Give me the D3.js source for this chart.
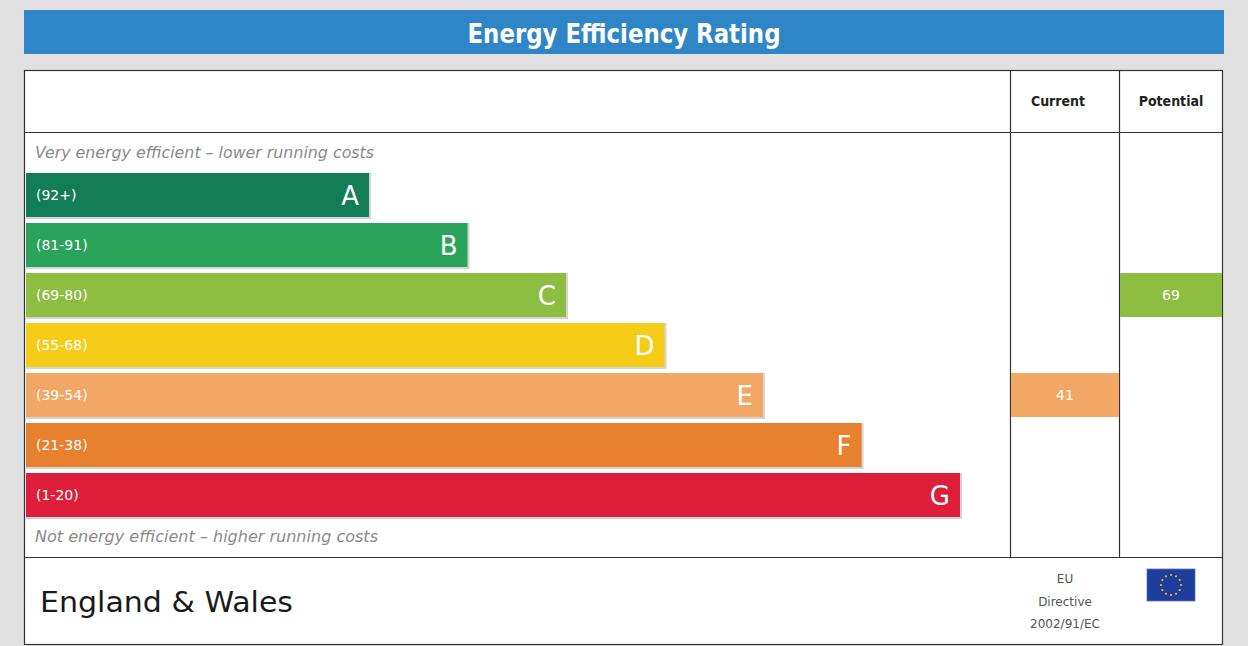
<!DOCTYPE html>
<html>
<head>
<meta charset="utf-8">
<script src="https://cdn.jsdelivr.net/npm/d3@7"></script>
<style>
  html, body { margin: 0; padding: 0; background: #e1e1e1; }
  svg { display: block; }
</style>
</head>
<body>
<div id="chart"></div>
<script>
// Rating bands, best to worst
const bandLetters = ["A", "B", "C", "D", "E", "F", "G"];
const bandRanges = ["(92+)", "(81-91)", "(69-80)", "(55-68)", "(39-54)", "(21-38)", "(1-20)"];
const bandMins = [92, 81, 69, 55, 39, 21, 1];
const bandColours = ["#127d56", "#2aa45b", "#8dbd41", "#f5cc18", "#f2a765", "#e8812f", "#de1f3b"];

// Ratings shown in the right-hand columns
const columnNames = ["Current", "Potential"];
const ratingValues = [41, 69];

const width = 1248;
const height = 646;

const svg = d3.select("#chart").append("svg")
  .attr("width", width)
  .attr("height", height);

// Title banner
svg.append("rect")
  .attr("x", 24).attr("y", 10)
  .attr("width", 1200).attr("height", 44)
  .attr("fill", "#2e86c7");
svg.append("text")
  .attr("x", 624).attr("y", 43)
  .attr("text-anchor", "middle")
  .attr("fill", "white")
  .style("font-family", "'DejaVu Sans Condensed', 'DejaVu Sans', sans-serif")
  .style("font-weight", "bold")
  .style("font-size", "27px")
  .attr("textLength", 313)
  .attr("lengthAdjust", "spacingAndGlyphs")
  .text("Energy Efficiency Rating");

// Main frame
const box = { left: 24.5, right: 1222.5, top: 70.5, bottom: 644.5, header: 132.5, footer: 557.5 };
const colX = [1010.5, 1119.5, box.right];

svg.append("rect")
  .attr("x", box.left).attr("y", box.top)
  .attr("width", box.right - box.left).attr("height", box.bottom - box.top)
  .attr("fill", "white")
  .attr("stroke", "#333")
  .attr("stroke-width", 1.2);

const gridLines = [
  [box.left, box.header, colX[0], box.header],
  [colX[0], box.header, box.right, box.header],
  [box.left, box.footer, box.right, box.footer],
  [colX[0], box.top, colX[0], box.footer],
  [colX[1], box.top, colX[1], box.footer]
];
svg.selectAll("line.grid")
  .data(gridLines)
  .enter().append("line")
  .attr("class", "grid")
  .attr("x1", (d) => d[0]).attr("y1", (d) => d[1])
  .attr("x2", (d) => d[2]).attr("y2", (d) => d[3])
  .attr("stroke", "#333")
  .attr("stroke-width", 1.2);

// Column headers
svg.selectAll("text.colhead")
  .data(columnNames)
  .enter().append("text")
  .attr("class", "colhead")
  .attr("x", (d, i) => (colX[i] + colX[i + 1]) / 2 - (i === 0 ? 7 : 0))
  .attr("y", 106)
  .attr("text-anchor", "middle")
  .attr("fill", "#222")
  .style("font-family", "'DejaVu Sans Condensed', 'DejaVu Sans', sans-serif")
  .style("font-weight", "bold")
  .style("font-size", "14px")
  .text((d) => d);

// Scales
const y = d3.scaleBand()
  .domain(bandLetters)
  .range([170, 520])
  .paddingInner(0.12)
  .paddingOuter(0.06);

const barEnd = d3.scaleLinear()
  .domain([0, bandLetters.length - 1])
  .range([369, 960]);

const barStart = 26;
const bodyFont = "'DejaVu Sans', sans-serif";

// Top / bottom captions
const captions = [
  { text: "Very energy efficient \u2013 lower running costs", y: 158, len: 339 },
  { text: "Not energy efficient \u2013 higher running costs", y: 542, len: 343 }
];
svg.selectAll("text.caption")
  .data(captions)
  .enter().append("text")
  .attr("class", "caption")
  .attr("x", 35)
  .attr("y", (d) => d.y)
  .attr("fill", "#8a8a8a")
  .attr("textLength", (d) => d.len)
  .attr("lengthAdjust", "spacingAndGlyphs")
  .style("font-family", bodyFont)
  .style("font-style", "italic")
  .style("font-size", "15px")
  .text((d) => d.text);

// Bands
const bands = svg.selectAll("g.band")
  .data(bandLetters)
  .enter().append("g")
  .attr("class", "band");

// soft grey edge under and right of each bar
bands.append("rect")
  .attr("x", barStart)
  .attr("y", (d) => y(d))
  .attr("width", (d, i) => barEnd(i) - barStart + 2)
  .attr("height", y.bandwidth() + 2)
  .attr("fill", "#d4d4d4");

bands.append("rect")
  .attr("x", barStart)
  .attr("y", (d) => y(d))
  .attr("width", (d, i) => barEnd(i) - barStart)
  .attr("height", y.bandwidth())
  .attr("fill", (d, i) => bandColours[i]);

bands.append("text")
  .attr("x", 36)
  .attr("y", (d) => y(d) + y.bandwidth() / 2 + 5)
  .attr("fill", "white")
  .style("font-family", bodyFont)
  .style("font-size", "14px")
  .text((d, i) => bandRanges[i]);

bands.append("text")
  .attr("x", (d, i) => barEnd(i) - 10)
  .attr("y", (d) => y(d) + y.bandwidth() / 2 + 10)
  .attr("text-anchor", "end")
  .attr("fill", "white")
  .style("font-family", bodyFont)
  .style("font-size", "26px")
  .text((d) => d);

// Ratings in the Current / Potential columns
const bandIndexFor = (v) => bandMins.findIndex((m) => v >= m);

const ratings = svg.selectAll("g.rating")
  .data(ratingValues)
  .enter().append("g")
  .attr("class", "rating");

ratings.append("rect")
  .attr("x", (d, i) => colX[i] + 0.5)
  .attr("y", (d) => y(bandLetters[bandIndexFor(d)]))
  .attr("width", (d, i) => colX[i + 1] - colX[i] - 1)
  .attr("height", y.bandwidth())
  .attr("fill", (d) => bandColours[bandIndexFor(d)]);

ratings.append("text")
  .attr("x", (d, i) => (colX[i] + colX[i + 1]) / 2)
  .attr("y", (d) => y(bandLetters[bandIndexFor(d)]) + y.bandwidth() / 2 + 5)
  .attr("text-anchor", "middle")
  .attr("fill", "white")
  .style("font-family", bodyFont)
  .style("font-size", "14px")
  .text((d) => d);

// Footer
svg.append("text")
  .attr("x", 40)
  .attr("y", 612)
  .attr("fill", "#1a1a1a")
  .attr("textLength", 253)
  .attr("lengthAdjust", "spacingAndGlyphs")
  .style("font-family", bodyFont)
  .style("font-size", "28px")
  .text("England & Wales");

const directiveLines = ["EU", "Directive", "2002/91/EC"];
svg.selectAll("text.directive")
  .data(directiveLines)
  .enter().append("text")
  .attr("class", "directive")
  .attr("x", 1065)
  .attr("y", (d, i) => 583 + i * 22.5)
  .attr("text-anchor", "middle")
  .attr("fill", "#555")
  .style("font-family", bodyFont)
  .style("font-size", "12px")
  .text((d) => d);

// EU flag
const flag = { x: 1147, y: 569, w: 48, h: 32 };
svg.append("rect")
  .attr("x", flag.x).attr("y", flag.y)
  .attr("width", flag.w).attr("height", flag.h)
  .attr("fill", "#1f3e9c")
  .attr("stroke", "#5577bb")
  .attr("stroke-width", 0.8);
svg.selectAll("circle.star")
  .data(d3.range(12))
  .enter().append("circle")
  .attr("class", "star")
  .attr("cx", (d) => flag.x + flag.w / 2 + 10 * Math.sin((d * Math.PI) / 6))
  .attr("cy", (d) => flag.y + flag.h / 2 - 10 * Math.cos((d * Math.PI) / 6))
  .attr("r", 1)
  .attr("fill", "#f5d400");
</script>
</body>
</html>
